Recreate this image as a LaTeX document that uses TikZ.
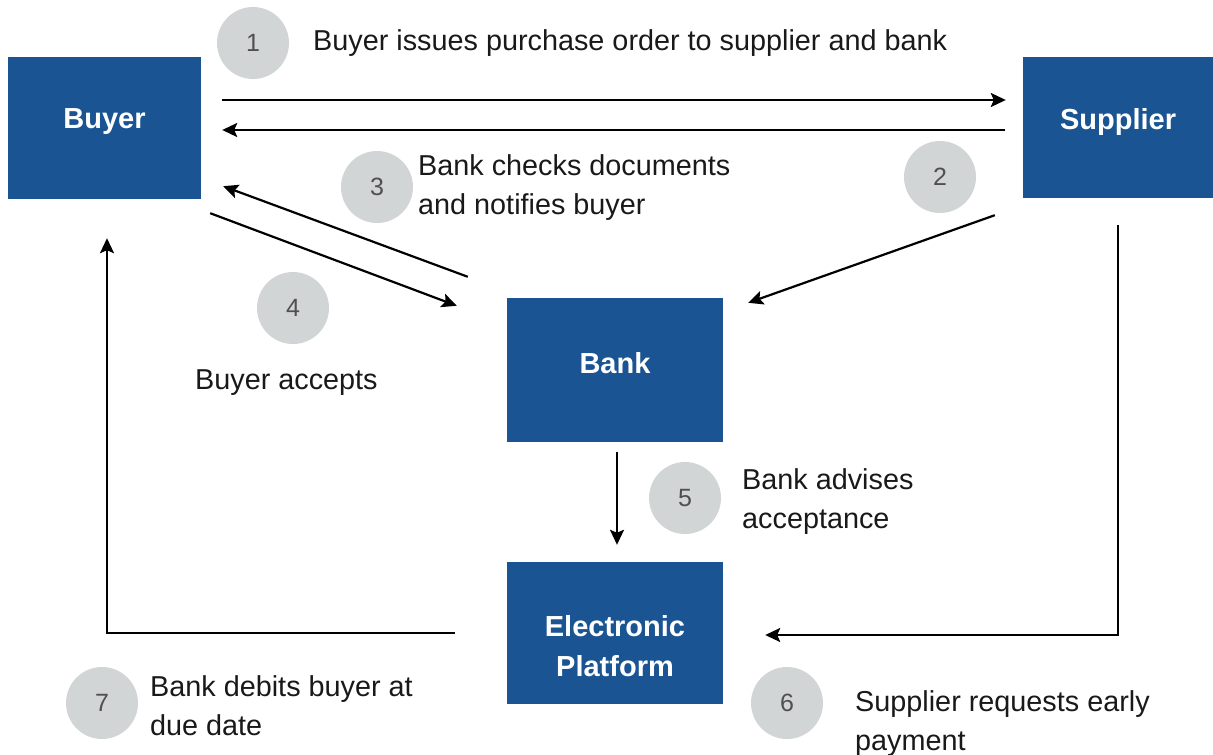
\documentclass[tikz,border=0pt]{standalone}
\usepackage{fontspec}
\setmainfont{Liberation Sans}
\usetikzlibrary{arrows.meta,calc}
\definecolor{boxblue}{RGB}{26,84,146}
\definecolor{circgray}{RGB}{210,213,214}
\definecolor{numgray}{RGB}{80,80,80}
\definecolor{txt}{RGB}{25,25,25}
\tikzset{
  bluebox/.style={fill=boxblue, draw=none, inner sep=0pt},
  boxtext/.style={text=white, font=\fontsize{29}{40}\selectfont\bfseries, align=center, inner sep=0pt},
  numcirc/.style={circle, fill=circgray, draw=none, minimum size=72pt, inner sep=0pt, text=numgray, font=\fontsize{25}{30}\selectfont},
  desc/.style={anchor=west, align=left, text=txt, font=\fontsize{28.8}{39}\selectfont, inner sep=0pt},
  arr/.style={draw=black, line width=2.2pt, -{Stealth[length=15pt,width=14pt,inset=3pt]}}
}
\begin{document}
\begin{tikzpicture}[x=1pt,y=-1pt]
\useasboundingbox (0,0) rectangle (1213,755);
% boxes
\node[bluebox, minimum width=193pt, minimum height=142pt] (buyer) at (104.5,128) {};
\node[bluebox, minimum width=190pt, minimum height=141pt] (supplier) at (1118,127.5) {};
\node[bluebox, minimum width=216pt, minimum height=144pt] (bank) at (615,370) {};
\node[bluebox, minimum width=216pt, minimum height=142pt] (platform) at (615,633) {};
% box texts
\node[boxtext] (tbuyer) at (104.5,122) {Buyer};
\node[boxtext] (tsupplier) at (1118,122) {Supplier};
\node[boxtext] (tbank) at (615,363) {Bank};
\node[boxtext] (tplatform) at (615,646) {Electronic\\Platform};
% number circles
\node[numcirc] (c1) at (253,43) {1};
\node[numcirc] (c2) at (940,177) {2};
\node[numcirc] (c3) at (377,187) {3};
\node[numcirc] (c4) at (293,308) {4};
\node[numcirc] (c5) at (685,498) {5};
\node[numcirc] (c6) at (787,703) {6};
\node[numcirc] (c7) at (102,703) {7};
% descriptions
\node[desc] (d1) at (313,43) {Buyer issues purchase order to supplier and bank};
\node[desc] (d3) at (418,188) {Bank checks documents\\and notifies buyer};
\node[desc] (d4) at (195,383) {Buyer accepts};
\node[desc] (d5) at (742,502) {Bank advises\\acceptance};
\node[desc] (d6) at (855,724) {Supplier requests early\\payment};
\node[desc] (d7) at (150,706) {Bank debits buyer at\\due date};
% connectors
\draw[arr] ([shift={(21,-28)}]buyer.east) -- ([shift={(-17,-27.5)}]supplier.west);
\draw[arr] ([shift={(-18,2.5)}]supplier.west) -- ([shift={(21,2)}]buyer.east);
\draw[arr] ([shift={(-39,-21)}]bank.north west) -- ([shift={(22,-13)}]buyer.south east);
\draw[arr] ([shift={(9,14)}]buyer.south east) -- ([shift={(-50,8)}]bank.north west);
\draw[arr] ([shift={(-28,17)}]supplier.south west) -- ([shift={(25,5)}]bank.north east);
\draw[arr] ([shift={(2,10)}]bank.south) -- ([shift={(2,-17)}]platform.north);
\draw[arr] ([shift={(0,27)}]supplier.south) |- ([shift={(42,2)}]platform.east);
\draw[arr] ([shift={(-52,0)}]platform.west) -| ([shift={(2.5,39)}]buyer.south);
\end{tikzpicture}
\end{document}
